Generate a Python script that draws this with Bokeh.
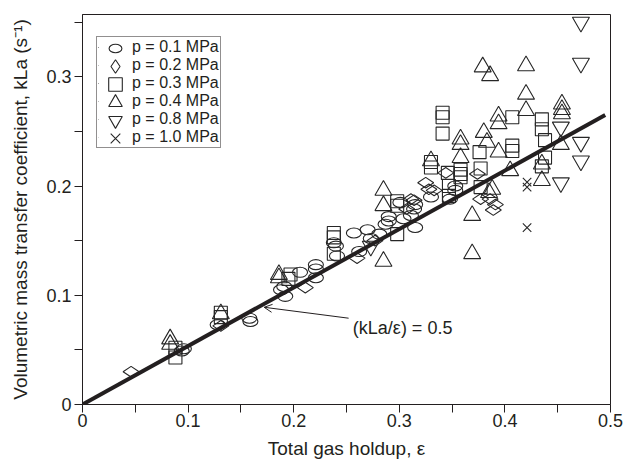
import numpy as np
from bokeh.plotting import figure
from bokeh.models import Range1d, FixedTicker, Legend, LegendItem, Label, Arrow, OpenHead
from bokeh.embed import file_html
from bokeh.resources import INLINE

# ---------------- data ----------------
x_ticks = [0, 0.1, 0.2, 0.3, 0.4, 0.5]
x_tick_labels = ["0", "0.1", "0.2", "0.3", "0.4", "0.5"]
x_minor_ticks = [0.05, 0.15, 0.25, 0.35, 0.45]
y_ticks = [0, 0.1, 0.2, 0.3]
y_tick_labels = ["0", "0.1", "0.2", "0.3"]
y_minor_ticks = [0.05, 0.15, 0.25, 0.35]

legend_labels = ["p = 0.1 MPa", "p = 0.2 MPa", "p = 0.3 MPa",
                 "p = 0.4 MPa", "p = 0.8 MPa", "p = 1.0 MPa"]

# p = 0.1 MPa (circles)
p01_x = [0.094, 0.096, 0.128, 0.158, 0.159, 0.188, 0.191, 0.192, 0.206, 0.221, 0.221,
         0.221, 0.238, 0.240, 0.241, 0.257, 0.262, 0.270, 0.273, 0.281, 0.287, 0.290,
         0.290, 0.301, 0.304, 0.311, 0.314, 0.315, 0.315, 0.330, 0.348, 0.353, 0.353]
p01_y = [0.049, 0.051, 0.073, 0.079, 0.076, 0.105, 0.108, 0.099, 0.121, 0.128, 0.124,
         0.116, 0.148, 0.145, 0.136, 0.157, 0.140, 0.160, 0.152, 0.156, 0.165, 0.172,
         0.168, 0.185, 0.170, 0.173, 0.179, 0.183, 0.162, 0.190, 0.188, 0.200, 0.196]
# p = 0.2 MPa (diamonds)
p02_x = [0.046, 0.131, 0.211, 0.260, 0.277, 0.307, 0.311, 0.314, 0.325, 0.328, 0.333,
         0.344, 0.374, 0.377, 0.386, 0.391, 0.389]
p02_y = [0.030, 0.072, 0.107, 0.134, 0.150, 0.179, 0.188, 0.187, 0.203, 0.197, 0.196,
         0.212, 0.211, 0.188, 0.188, 0.183, 0.178]
# p = 0.3 MPa (squares)
p03_x = [0.088, 0.088, 0.131, 0.131, 0.197, 0.195, 0.238, 0.238, 0.238, 0.298, 0.298,
         0.298, 0.330, 0.330, 0.341, 0.341, 0.341, 0.346, 0.347, 0.347, 0.358, 0.358,
         0.358, 0.376, 0.377, 0.377, 0.407, 0.407, 0.407, 0.435, 0.435, 0.438, 0.438, 0.435]
p03_y = [0.052, 0.043, 0.084, 0.080, 0.119, 0.115, 0.157, 0.153, 0.138, 0.186, 0.182,
         0.156, 0.222, 0.217, 0.267, 0.263, 0.248, 0.212, 0.200, 0.191, 0.215, 0.211,
         0.208, 0.231, 0.216, 0.199, 0.263, 0.237, 0.232, 0.261, 0.252, 0.242, 0.226, 0.218]
# p = 0.4 MPa (up triangles)
p04_x = [0.083, 0.083, 0.131, 0.186, 0.186, 0.285, 0.285, 0.285, 0.330, 0.358, 0.358,
         0.358, 0.369, 0.369, 0.379, 0.386, 0.380, 0.383, 0.394, 0.394, 0.394, 0.385,
         0.388, 0.405, 0.420, 0.420, 0.420, 0.435, 0.435, 0.454, 0.454, 0.454, 0.453]
p04_y = [0.060, 0.055, 0.083, 0.119, 0.116, 0.196, 0.182, 0.131, 0.223, 0.243, 0.238,
         0.226, 0.173, 0.138, 0.309, 0.301, 0.249, 0.240, 0.264, 0.257, 0.231, 0.194,
         0.197, 0.214, 0.310, 0.284, 0.269, 0.220, 0.205, 0.275, 0.270, 0.266, 0.238]
# p = 0.8 MPa (down triangles)
p08_x = [0.273, 0.453, 0.453, 0.472, 0.472, 0.472, 0.472]
p08_y = [0.145, 0.254, 0.203, 0.350, 0.3125, 0.240, 0.223]
# p = 1.0 MPa (crosses)
p10_x = [0.421, 0.421, 0.421]
p10_y = [0.2035, 0.199, 0.162]

# correlation line kLa/eps = 0.5
line_x = [0.0, 0.495]
line_y = [0.0, 0.265]

# annotation
note_text = "(kLa/ε) = 0.5"

# ---------------- figure ----------------
ink = "#231f20"
mk = "#262626"
font = "Liberation Sans"

p = figure(width=626, height=464, x_range=Range1d(0, 0.5), y_range=Range1d(0, 0.357),
           output_backend="svg", toolbar_location=None,
           min_border_left=82, min_border_right=16, min_border_top=14, min_border_bottom=60)
p.background_fill_color = "white"
p.border_fill_color = "white"
p.xgrid.grid_line_color = None
p.ygrid.grid_line_color = None
p.outline_line_color = ink
p.outline_line_width = 1
p.outline_line_alpha = 1

p.xaxis.ticker = FixedTicker(ticks=x_ticks, minor_ticks=x_minor_ticks)
p.yaxis.ticker = FixedTicker(ticks=y_ticks, minor_ticks=y_minor_ticks)
p.xaxis.major_label_overrides = dict(zip(x_ticks, x_tick_labels))
p.yaxis.major_label_overrides = dict(zip(y_ticks, y_tick_labels))

for ax in (p.xaxis, p.yaxis):
    ax.axis_line_color = ink
    ax.major_tick_line_color = ink
    ax.minor_tick_line_color = ink
    ax.major_tick_in = 0
    ax.major_tick_out = 8
    ax.minor_tick_in = 0
    ax.minor_tick_out = 8
    ax.major_label_text_font = font
    ax.major_label_text_font_size = "18px"
    ax.major_label_text_color = ink
    ax.axis_label_text_font = font
    ax.axis_label_text_font_size = "19px"
    ax.axis_label_text_font_style = "normal"
    ax.axis_label_text_color = ink

p.xaxis.axis_label = "Total gas holdup, ε"
p.yaxis.axis_label = "Volumetric mass transfer coefficient, kLa (s⁻¹)"
p.xaxis.major_label_standoff = 1
p.xaxis.axis_label_standoff = 8
p.yaxis.major_label_standoff = 3
p.yaxis.axis_label_standoff = 12

style = dict(fill_color=None, line_color=mk, line_width=1.1)
r1 = p.ellipse(p01_x, p01_y, width=15, height=10, width_units="screen",
               height_units="screen", **style)
r2 = p.scatter(p02_x, p02_y, marker="diamond", size=16, angle=np.pi / 2, **style)
r3 = p.scatter(p03_x, p03_y, marker="square", size=13, **style)
r4 = p.scatter(p04_x, p04_y, marker="triangle", size=17, **style)
r5 = p.scatter(p08_x, p08_y, marker="inverted_triangle", size=17, **style)
r6 = p.scatter(p10_x, p10_y, marker="x", size=12, **style)
renderers = [r1, r2, r3, r4, r5, r6]

p.line(line_x, line_y, line_width=4, line_color=ink)

p.add_layout(Arrow(end=OpenHead(size=8, line_color=ink, line_width=1),
                   x_start=0.252, y_start=0.079, x_end=0.172, y_end=0.089,
                   line_color=ink, line_width=1))
p.add_layout(Label(x=0.256, y=0.070, text=note_text, text_baseline="middle",
                   text_font=font, text_font_size="18px", text_color=ink))

# legend box + labels (its own glyphs are 1 px and hidden under the border)
leg_text = Legend(items=[LegendItem(label=lab, renderers=[r])
                         for lab, r in zip(legend_labels, renderers)],
                  location=(14, 256))
leg_text.border_line_color = ink
leg_text.border_line_width = 1
leg_text.background_fill_color = "white"
leg_text.background_fill_alpha = 1
leg_text.label_text_font = font
leg_text.label_text_font_size = "16px"
leg_text.label_text_color = ink
leg_text.glyph_width = 1
leg_text.glyph_height = 1
leg_text.label_height = 16
leg_text.spacing = 0
leg_text.padding = 1
leg_text.margin = 0
leg_text.label_standoff = 33
p.add_layout(leg_text)


def marker_legend(r, loc, box):
    lg = Legend(items=[LegendItem(label=" ", renderers=[r])], location=loc)
    lg.border_line_color = None
    lg.background_fill_alpha = 0
    lg.glyph_width = box
    lg.glyph_height = box
    lg.label_height = 2
    lg.padding = 0
    lg.margin = 0
    lg.label_standoff = 0
    lg.label_text_font_size = "2px"
    p.add_layout(lg)


marker_legend(r1, (25, 348), 16)
for i, r in enumerate(renderers[1:], start=1):
    marker_legend(r, (16, 339 - 18 * i), 34)

open("out.html", "w").write(file_html(p, INLINE))
